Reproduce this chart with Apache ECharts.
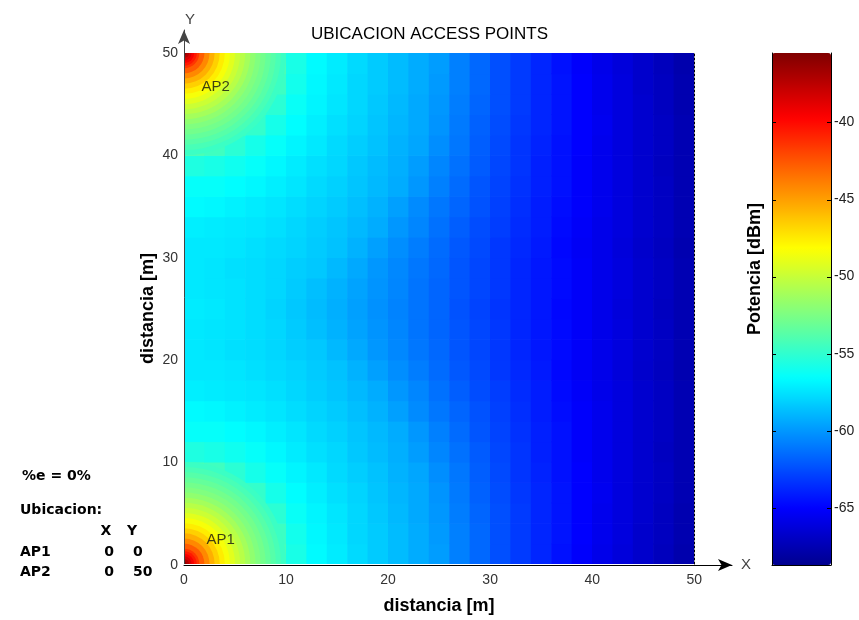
<!DOCTYPE html>
<html>
<head>
<meta charset="utf-8">
<script src="https://cdn.jsdelivr.net/npm/echarts@6/dist/echarts.min.js"></script>
<style>
  html, body { margin: 0; padding: 0; background: #fff; }
  #chart { width: 859px; height: 620px; }
</style>
</head>
<body>
<div id="chart"></div>
<script>
// cell centres (m), 2 m cells over the 50 x 50 m floor
var xCenters = [1, 3, 5, 7, 9, 11, 13, 15, 17, 19, 21, 23, 25, 27, 29, 31, 33, 35, 37, 39, 41, 43, 45, 47, 49];
var yCenters = [1, 3, 5, 7, 9, 11, 13, 15, 17, 19, 21, 23, 25, 27, 29, 31, 33, 35, 37, 39, 41, 43, 45, 47, 49];
var cellSize = 2;

// received power [dBm], one row per y cell (bottom to top)
var power = [
  [-41.7,-46.4,-49.7,-52.3,-54.2,-55.8,-56.7,-57.2,-57.8,-58.3,-58.8,-59.3,-59.8,-60.8,-61.6,-62.4,-63.1,-63.8,-64.5,-65.1,-65.7,-66.2,-66.7,-67.2,-67.7],
  [-46.4,-48.4,-50.8,-52.8,-54.6,-56.0,-56.8,-57.3,-57.9,-58.3,-58.8,-59.3,-59.9,-60.8,-61.6,-62.4,-63.1,-63.8,-64.4,-65.0,-65.6,-66.1,-66.7,-67.1,-67.6],
  [-49.7,-50.8,-52.3,-53.8,-55.2,-56.3,-56.9,-57.4,-57.9,-58.4,-58.9,-59.4,-60.0,-60.9,-61.7,-62.4,-63.1,-63.8,-64.4,-65.0,-65.6,-66.1,-66.6,-67.1,-67.6],
  [-52.3,-52.8,-53.7,-54.9,-55.9,-56.6,-57.1,-57.6,-58.0,-58.5,-59.0,-59.4,-60.1,-61.0,-61.8,-62.5,-63.2,-63.8,-64.4,-65.0,-65.5,-66.1,-66.6,-67.0,-67.5],
  [-54.1,-54.5,-55.2,-55.9,-56.4,-56.9,-57.3,-57.8,-58.2,-58.6,-59.1,-59.5,-60.3,-61.1,-61.9,-62.6,-63.3,-63.9,-64.5,-65.0,-65.6,-66.1,-66.6,-67.0,-67.5],
  [-55.6,-55.8,-56.1,-56.4,-56.8,-57.2,-57.6,-57.9,-58.4,-58.8,-59.2,-59.8,-60.6,-61.3,-62.0,-62.7,-63.3,-64.0,-64.5,-65.1,-65.6,-66.1,-66.6,-67.1,-67.5],
  [-56.4,-56.4,-56.6,-56.8,-57.1,-57.4,-57.8,-58.1,-58.5,-58.9,-59.3,-60.0,-60.8,-61.5,-62.2,-62.8,-63.4,-64.0,-64.5,-65.1,-65.6,-66.1,-66.6,-67.0,-67.5],
  [-56.7,-56.8,-57.0,-57.2,-57.4,-57.7,-58.0,-58.3,-58.7,-59.1,-59.7,-60.4,-61.1,-61.7,-62.3,-62.9,-63.5,-64.1,-64.6,-65.1,-65.6,-66.1,-66.6,-67.0,-67.5],
  [-57.1,-57.2,-57.3,-57.4,-57.6,-57.9,-58.2,-58.5,-58.9,-59.3,-60.0,-60.6,-61.3,-61.9,-62.5,-63.0,-63.6,-64.1,-64.7,-65.2,-65.7,-66.1,-66.6,-67.0,-67.5],
  [-57.3,-57.3,-57.4,-57.6,-57.8,-58.0,-58.3,-58.6,-59.1,-59.7,-60.3,-60.9,-61.5,-62.1,-62.6,-63.2,-63.7,-64.2,-64.8,-65.3,-65.7,-66.2,-66.7,-67.1,-67.6],
  [-57.3,-57.4,-57.6,-57.7,-57.9,-58.2,-58.4,-58.9,-59.4,-60.0,-60.5,-61.1,-61.6,-62.2,-62.7,-63.2,-63.8,-64.3,-64.7,-65.2,-65.7,-66.1,-66.6,-67.0,-67.5],
  [-57.3,-57.4,-57.5,-57.7,-57.9,-58.3,-58.7,-59.1,-59.6,-60.1,-60.6,-61.2,-61.7,-62.2,-62.7,-63.2,-63.8,-64.3,-64.7,-65.2,-65.7,-66.1,-66.6,-67.0,-67.5],
  [-57.2,-57.3,-57.5,-57.7,-58.0,-58.4,-58.8,-59.2,-59.7,-60.2,-60.7,-61.2,-61.7,-62.3,-62.8,-63.3,-63.8,-64.3,-64.8,-65.2,-65.7,-66.2,-66.6,-67.1,-67.5],
  [-57.3,-57.4,-57.5,-57.7,-57.9,-58.3,-58.7,-59.1,-59.6,-60.1,-60.6,-61.2,-61.7,-62.2,-62.7,-63.2,-63.8,-64.3,-64.7,-65.2,-65.7,-66.1,-66.6,-67.0,-67.5],
  [-57.3,-57.4,-57.6,-57.7,-57.9,-58.2,-58.4,-58.9,-59.4,-60.0,-60.5,-61.1,-61.6,-62.2,-62.7,-63.2,-63.8,-64.3,-64.7,-65.2,-65.7,-66.1,-66.6,-67.0,-67.5],
  [-57.3,-57.3,-57.4,-57.6,-57.8,-58.0,-58.3,-58.6,-59.1,-59.7,-60.3,-60.9,-61.5,-62.1,-62.6,-63.2,-63.7,-64.2,-64.8,-65.3,-65.7,-66.2,-66.7,-67.1,-67.6],
  [-57.1,-57.2,-57.3,-57.4,-57.6,-57.9,-58.2,-58.5,-58.9,-59.3,-60.0,-60.6,-61.3,-61.9,-62.5,-63.0,-63.6,-64.1,-64.7,-65.2,-65.7,-66.1,-66.6,-67.0,-67.5],
  [-56.7,-56.8,-57.0,-57.2,-57.4,-57.7,-58.0,-58.3,-58.7,-59.1,-59.7,-60.4,-61.1,-61.7,-62.3,-62.9,-63.5,-64.1,-64.6,-65.1,-65.6,-66.1,-66.6,-67.0,-67.5],
  [-56.4,-56.4,-56.6,-56.8,-57.1,-57.4,-57.8,-58.1,-58.5,-58.9,-59.3,-60.0,-60.8,-61.5,-62.2,-62.8,-63.4,-64.0,-64.5,-65.1,-65.6,-66.1,-66.6,-67.0,-67.5],
  [-55.6,-55.8,-56.1,-56.4,-56.8,-57.2,-57.6,-57.9,-58.4,-58.8,-59.2,-59.8,-60.6,-61.3,-62.0,-62.7,-63.3,-64.0,-64.5,-65.1,-65.6,-66.1,-66.6,-67.1,-67.5],
  [-54.1,-54.5,-55.2,-55.9,-56.4,-56.9,-57.3,-57.8,-58.2,-58.6,-59.1,-59.5,-60.3,-61.1,-61.9,-62.6,-63.3,-63.9,-64.5,-65.0,-65.6,-66.1,-66.6,-67.0,-67.5],
  [-52.3,-52.8,-53.7,-54.9,-55.9,-56.6,-57.1,-57.6,-58.0,-58.5,-59.0,-59.4,-60.1,-61.0,-61.8,-62.5,-63.2,-63.8,-64.4,-65.0,-65.5,-66.1,-66.6,-67.0,-67.5],
  [-49.7,-50.8,-52.3,-53.8,-55.2,-56.3,-56.9,-57.4,-57.9,-58.4,-58.9,-59.4,-60.0,-60.9,-61.7,-62.4,-63.1,-63.8,-64.4,-65.0,-65.6,-66.1,-66.6,-67.1,-67.6],
  [-46.4,-48.4,-50.8,-52.8,-54.6,-56.0,-56.8,-57.3,-57.9,-58.3,-58.8,-59.3,-59.9,-60.8,-61.6,-62.4,-63.1,-63.8,-64.4,-65.0,-65.6,-66.1,-66.7,-67.1,-67.6],
  [-41.7,-46.4,-49.7,-52.3,-54.2,-55.8,-56.7,-57.2,-57.8,-58.3,-58.8,-59.3,-59.8,-60.8,-61.6,-62.4,-63.1,-63.8,-64.5,-65.1,-65.7,-66.2,-66.7,-67.2,-67.7]
];

// near field around each access point: ring outer radius [m] and power [dBm]
var ringRadius = [10, 9.5, 9, 8.5, 8, 7.5, 7, 6.5, 6, 5.5, 5, 4.5, 4, 3.5, 3, 2.5, 2, 1.5, 1.25, 1, 0.75, 0.5, 0.25];
var ringPower = [-54.65, -54.2, -53.75, -53.3, -52.8, -52.35, -51.8, -51.15, -50.5, -49.85, -49.1, -48.4, -47.55, -46.6, -45.5, -44.2, -42.75, -41.5, -40.5, -39.5, -38.4, -37.2, -36.0];

var apNames = ['AP1', 'AP2'];
var apX = [0, 0];
var apY = [0, 50];
var errorText = '%e = 0%';

var powerMin = -68.7;
var powerMax = -35.5;
var barTicks = [-65, -60, -55, -50, -45, -40];

(function () {
  var FONT = '"Liberation Sans", Arial, sans-serif';

  // matlab jet(64)
  function jet64() {
    var out = [];
    for (var i = 1; i <= 64; i++) {
      var r = i <= 24 ? 0 : i <= 40 ? (i - 24) / 16 : i <= 56 ? 1 : 1 - (i - 56) / 16;
      var g = i <= 8 ? 0 : i <= 24 ? (i - 8) / 16 : i <= 40 ? 1 : i <= 56 ? 1 - (i - 40) / 16 : 0;
      var b = i <= 8 ? (i + 8) / 16 : i <= 24 ? 1 : i <= 40 ? 1 - (i - 24) / 16 : 0;
      out.push('rgb(' + Math.round(r * 255) + ',' + Math.round(g * 255) + ',' + Math.round(b * 255) + ')');
    }
    return out;
  }

  var cellData = [];
  power.forEach(function (row, j) {
    row.forEach(function (v, i) { cellData.push([i, j, v]); });
  });

  var ringData = [];
  apNames.forEach(function (n, a) {
    ringRadius.forEach(function (r, k) { ringData.push([a, r, ringPower[k]]); });
  });

  var apData = apNames.map(function (n, i) {
    return {
      name: n,
      value: [apX[i], apY[i]],
      label: { position: i === 0 ? [23, -24] : [18, 34] }
    };
  });

  // left text block
  var txt = function (x, y, s, align) {
    return {
      type: 'text', x: x, y: y, silent: true,
      style: {
        text: s, font: 'bold 14px "DejaVu Sans", sans-serif', fill: '#000',
        align: align || 'left', textAlign: align || 'left',
        verticalAlign: 'middle', textVerticalAlign: 'middle'
      }
    };
  };
  var graphics = [
    txt(22, 476, errorText),
    txt(20, 510, 'Ubicacion:'),
    txt(106, 531, 'X', 'center'),
    txt(132, 531, 'Y', 'center')
  ];
  apNames.forEach(function (n, i) {
    var yy = 552 + i * 20;
    graphics.push(txt(20, yy, n));
    graphics.push(txt(109, yy, String(apX[i]), 'center'));
    graphics.push(txt(133, yy, String(apY[i])));
  });

  var noAxis = { axisTick: { show: false }, axisLabel: { show: false }, splitLine: { show: false } };
  function ax(o) { return Object.assign({}, noAxis, o); }

  var chart = echarts.init(document.getElementById('chart'), null, { renderer: 'canvas' });
  chart.setOption({
    animation: false,
    backgroundColor: '#fff',
    title: {
      text: 'UBICACION ACCESS POINTS',
      left: 'center',
      top: 21,
      textStyle: { fontFamily: FONT, fontSize: 17, fontWeight: 'normal', color: '#000' }
    },
    graphic: graphics,
    grid: [
      { left: 184, top: 53, width: 510, height: 512 },   // floor plan
      { left: 184, top: 30, width: 548, height: 535 },   // arrow axes
      { left: 772, top: 53, width: 59, height: 512 }     // colour bar
    ],
    xAxis: [
      ax({
        gridIndex: 0, type: 'value', min: 0, max: 50, z: 4,
        axisLine: { show: true, onZero: false, lineStyle: { color: '#fff', type: [2, 3] } },
        name: 'distancia [m]', nameLocation: 'middle', nameGap: 33,
        nameTextStyle: { fontFamily: FONT, fontSize: 18, fontWeight: 'bold', color: '#000' }
      }),
      {
        gridIndex: 1, type: 'value', min: 0, max: 53.7, interval: 10, z: 3,
        axisLine: { show: true, onZero: false, symbol: ['none', 'arrow'], symbolSize: [9, 14], lineStyle: { color: '#000' } },
        axisTick: { show: false }, splitLine: { show: false },
        axisLabel: { fontFamily: FONT, fontSize: 14, color: '#333', margin: 8, showMaxLabel: false },
        name: 'X', nameGap: 9,
        nameTextStyle: { fontFamily: FONT, fontSize: 15, color: '#444' }
      },
      ax({
        gridIndex: 2, type: 'value', min: 0, max: 1, zlevel: 1,
        axisLine: { show: true, onZero: false, lineStyle: { color: '#000' } }
      })
    ],
    yAxis: [
      ax({
        gridIndex: 0, type: 'value', min: 0, max: 50,
        axisLine: { show: false, onZero: false },
        name: 'distancia [m]', nameLocation: 'middle', nameGap: 27,
        nameTextStyle: { fontFamily: FONT, fontSize: 18, fontWeight: 'bold', color: '#000' }
      }),
      ax({
        gridIndex: 0, type: 'value', min: 0, max: 50, position: 'right', z: 4,
        axisLine: { show: true, onZero: false, lineStyle: { color: '#000', type: [2, 2] } }
      }),
      {
        gridIndex: 1, type: 'value', min: 0, max: 52.25, interval: 10, z: 3,
        axisLine: { show: true, onZero: false, symbol: ['none', 'arrow'], symbolSize: [9, 14], lineStyle: { color: '#444' } },
        axisTick: { show: false }, splitLine: { show: false },
        axisLabel: { fontFamily: FONT, fontSize: 14, color: '#333', margin: 6, showMaxLabel: false },
        name: 'Y', nameGap: 3,
        nameTextStyle: { fontFamily: FONT, fontSize: 15, color: '#444', padding: [0, 0, 0, 12] }
      },
      // colour bar: right edge with labels
      ax({
        gridIndex: 2, type: 'value', min: powerMin, max: powerMax, position: 'right', zlevel: 1,
        axisLine: { show: true, onZero: false, lineStyle: { color: '#000' } },
        axisLabel: { show: true, customValues: barTicks, fontFamily: FONT, fontSize: 14, color: '#222', margin: 3 }
      }),
      // colour bar: left edge with the title
      ax({
        gridIndex: 2, type: 'value', min: powerMin, max: powerMax, position: 'left', zlevel: 1,
        axisLine: { show: true, onZero: false, lineStyle: { color: '#000' } },
        name: 'Potencia [dBm]', nameLocation: 'middle', nameGap: 8,
        nameTextStyle: { fontFamily: FONT, fontSize: 18, fontWeight: 'bold', color: '#000', padding: [0, 0, 0, 80] }
      })
    ],
    visualMap: {
      type: 'continuous',
      min: powerMin, max: powerMax,
      dimension: 2,
      seriesIndex: [0, 1],
      calculable: false,
      hoverLink: false,
      left: 772, top: 53,
      itemWidth: 59, itemHeight: 512,
      padding: 0,
      inRange: { color: jet64() }
    },
    series: [
      {
        type: 'custom',
        xAxisIndex: 0, yAxisIndex: 0,
        data: cellData,
        clip: true,
        silent: true,
        renderItem: function (params, api) {
          var x = xCenters[api.value(0)];
          var y = yCenters[api.value(1)];
          var p = api.coord([x - cellSize / 2, y + cellSize / 2]);
          var s = api.size([cellSize, cellSize]);
          return {
            type: 'rect',
            shape: { x: p[0], y: p[1], width: s[0] + 0.7, height: s[1] + 0.7 },
            style: { fill: api.visual('color') }
          };
        }
      },
      {
        type: 'custom',
        xAxisIndex: 0, yAxisIndex: 0,
        data: ringData,
        clip: true,
        silent: true,
        renderItem: function (params, api) {
          var a = api.value(0);
          var c = api.coord([apX[a], apY[a]]);
          var s = api.size([api.value(1), api.value(1)]);
          return {
            type: 'circle',
            shape: { cx: c[0], cy: c[1], r: (s[0] + s[1]) / 2 },
            style: { fill: api.visual('color') }
          };
        }
      },
      {
        type: 'scatter',
        xAxisIndex: 0, yAxisIndex: 0,
        data: apData,
        symbolSize: 1,
        itemStyle: { color: 'rgba(0,0,0,0)' },
        silent: true,
        z: 5,
        label: {
          show: true, formatter: '{b}',
          fontFamily: FONT, fontSize: 15, color: '#111',
          align: 'left', verticalAlign: 'middle'
        }
      },
      {
        // short inward ticks on both edges of the colour bar
        type: 'custom',
        xAxisIndex: 2, yAxisIndex: 3,
        data: barTicks.map(function (v) { return [0, v]; }),
        silent: true,
        zlevel: 1,
        renderItem: function (params, api) {
          var l = api.coord([0, api.value(1)]);
          var r = api.coord([1, api.value(1)]);
          var y = Math.round(l[1]) + 0.5;
          return {
            type: 'group',
            children: [
              { type: 'line', shape: { x1: l[0], y1: y, x2: l[0] + 4, y2: y }, style: { stroke: '#000', lineWidth: 1 } },
              { type: 'line', shape: { x1: r[0] - 4, y1: y, x2: r[0], y2: y }, style: { stroke: '#000', lineWidth: 1 } }
            ]
          };
        }
      }
    ]
  });
  window.addEventListener('resize', function () { chart.resize(); });
})();
</script>
</body>
</html>
